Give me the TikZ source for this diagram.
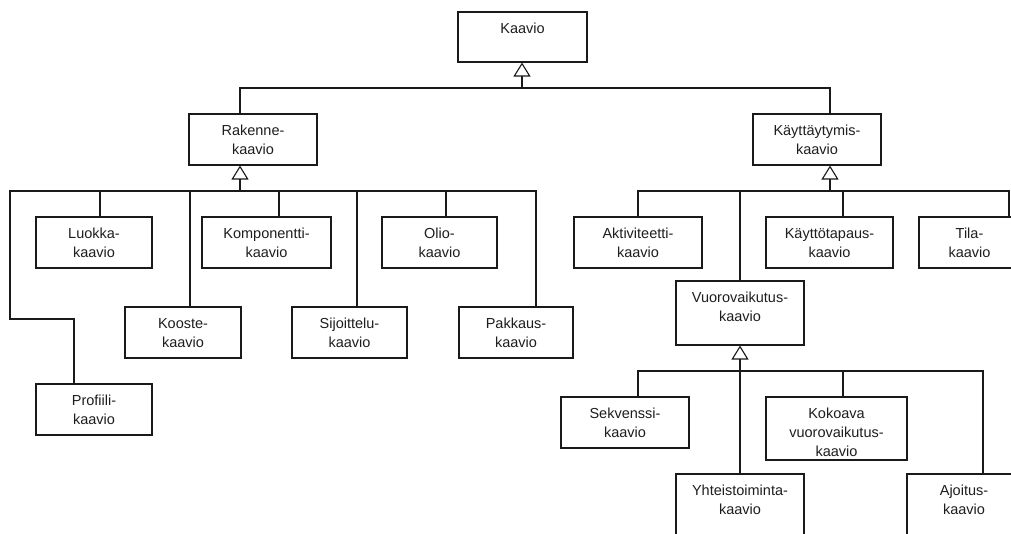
\documentclass[tikz,border=0pt]{standalone}
\usepackage{fontspec}
\setmainfont{Liberation Sans}
\usetikzlibrary{arrows.meta}
\definecolor{linecol}{HTML}{1A1A1A}
\definecolor{textcol}{HTML}{1E1E1E}
\tikzset{
  umlbox/.style={draw=linecol, line width=1.1pt, rectangle, inner sep=0pt, fill=white},
  boxtext/.style={anchor=north, inner sep=0pt, align=center,
    font=\fontsize{14.5}{19}\selectfont, text=textcol},
  wire/.style={draw=linecol, line width=1.1pt},
  gen/.style={wire, -{Triangle[open, length=14pt, width=17pt]}},
}
% strut that fixes the top of the first text line
\newcommand\fl{\rule{0pt}{14pt}}
% \mkbox{name}{x1}{y1}{x2}{y2}{text}: framed class box, text set from the top
\newcommand\mkbox[6]{%
  \node[umlbox, minimum width={#4-#2}, minimum height={#5-#3}] (#1) at ({(#2+#4)/2},{(#3+#5)/2}) {};
  \node[boxtext] (#1-t) at ({(#2+#4)/2},{#3+7}) {\fl #6};}
\begin{document}
\begin{tikzpicture}[x=1pt, y=-1pt]
\clip (0,0) rectangle (1011,534);
\fill[white] (0,0) rectangle (1011,534);

% boxes
\mkbox{kaavio}{458}{12}{587}{62}{Kaavio}
\mkbox{rak}{189}{114}{317}{165}{Rakenne-\\kaavio}
\mkbox{kay}{753}{114}{881}{165}{Käyttäytymis-\\kaavio}
\mkbox{luokka}{36}{217}{152}{268}{Luokka-\\kaavio}
\mkbox{komp}{202}{217}{331}{268}{Komponentti-\\kaavio}
\mkbox{olio}{382}{217}{497}{268}{Olio-\\kaavio}
\mkbox{kooste}{125}{307}{241}{358}{Kooste-\\kaavio}
\mkbox{sij}{292}{307}{407}{358}{Sijoittelu-\\kaavio}
\mkbox{pak}{459}{307}{573}{358}{Pakkaus-\\kaavio}
\mkbox{prof}{36}{384}{152}{435}{Profiili-\\kaavio}
\mkbox{akt}{574}{217}{702}{268}{Aktiviteetti-\\kaavio}
\mkbox{kayt}{766}{217}{893}{268}{Käyttötapaus-\\kaavio}
\mkbox{tila}{919}{217}{1020}{268}{Tila-\\kaavio}
\mkbox{vuoro}{676}{281}{804}{345}{Vuorovaikutus-\\kaavio}
\mkbox{sek}{561}{397}{689}{448}{Sekvenssi-\\kaavio}
\mkbox{kok}{766}{397}{907}{460}{Kokoava\\vuorovaikutus-\\kaavio}
\mkbox{yht}{676}{474}{804}{550}{Yhteistoiminta-\\kaavio}
\mkbox{ajo}{907}{474}{1021}{550}{Ajoitus-\\kaavio}

% junctions on the buses
\coordinate (kaa-j) at (522,88);
\coordinate (rak-j) at (240,191);
\coordinate (kay-j) at (830,191);
\coordinate (vuo-j) at (740,371);
\coordinate (prof-bend) at (10,319);

% generalisation trunks
\draw[gen] (kaa-j) -- (kaa-j |- kaavio.south);
\draw[gen] (rak-j) -- (rak-j |- rak.south);
\draw[gen] (kay-j) -- (kay-j |- kay.south);
\draw[gen] (vuo-j) -- (vuo-j |- vuoro.south);

% top level
\draw[wire] ([xshift=-13pt]rak.north) |- (kaa-j);
\draw[wire] ([xshift=13pt]kay.north) |- (kaa-j);

% structure diagrams
\draw[wire] ([xshift=6pt]luokka.north) |- (rak-j);
\draw[wire] ([xshift=12.5pt]komp.north) |- (rak-j);
\draw[wire] ([xshift=6.5pt]olio.north) |- (rak-j);
\draw[wire] ([xshift=7pt]kooste.north) |- (rak-j);
\draw[wire] ([xshift=7.5pt]sij.north) |- (rak-j);
\draw[wire] ([xshift=20pt]pak.north) |- (rak-j);
\draw[wire] ([xshift=-20pt]prof.north) |- (prof-bend) |- (rak-j);

% behaviour diagrams
\draw[wire] (akt.north) |- (kay-j);
\draw[wire] (vuoro.north) |- (kay-j);
\draw[wire] ([xshift=13.5pt]kayt.north) |- (kay-j);
\draw[wire] ([xshift=39.5pt]tila.north) |- (kay-j);

% interaction diagrams
\draw[wire] ([xshift=13pt]sek.north) |- (vuo-j);
\draw[wire] ([xshift=6.5pt]kok.north) |- (vuo-j);
\draw[wire] (yht.north) -- (vuo-j);
\draw[wire] ([xshift=19pt]ajo.north) |- (vuo-j);
\end{tikzpicture}
\end{document}
